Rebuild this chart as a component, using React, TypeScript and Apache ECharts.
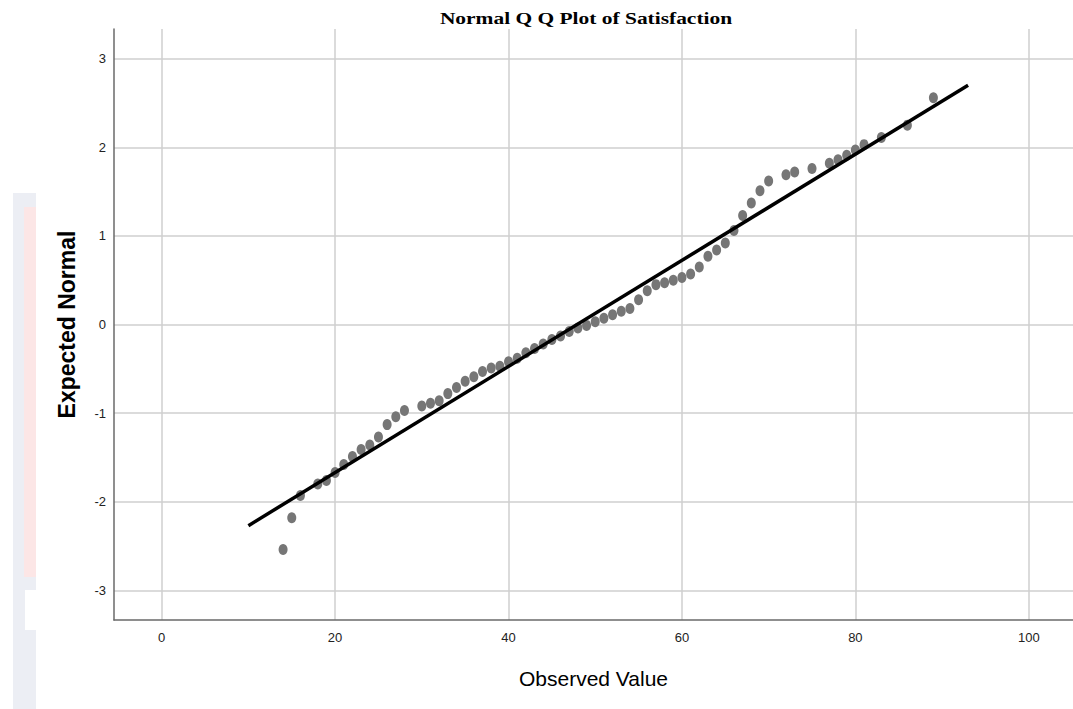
import React, { useEffect, useRef } from "react";
import * as echarts from "echarts";

const observedValues = [
  14, 15, 16, 18, 19, 20, 21, 22, 23, 24,
  25, 26, 27, 28, 30, 31, 32, 33, 34, 35,
  36, 37, 38, 39, 40, 41, 42, 43, 44, 45, 46, 47, 48, 49,
  50, 51, 52, 53, 54, 55, 56, 57, 58, 59, 60, 61, 62, 63, 64, 65, 66, 67, 68, 69, 70,
  72, 73, 75, 77, 78, 79, 80, 81, 83, 86, 89,
];
const expectedNormal = [
  -2.54, -2.18, -1.93, -1.8, -1.76, -1.67, -1.58, -1.49, -1.41, -1.36,
  -1.27, -1.13, -1.04, -0.97, -0.92, -0.89, -0.86, -0.78, -0.71, -0.64,
  -0.59, -0.53, -0.49, -0.47, -0.42, -0.38, -0.32, -0.27, -0.22, -0.17, -0.13, -0.08, -0.04, -0.01,
  0.03, 0.07, 0.11, 0.15, 0.18, 0.28, 0.38, 0.45, 0.47, 0.5, 0.53, 0.57, 0.65, 0.77, 0.84, 0.92, 1.06, 1.23, 1.37, 1.51, 1.62,
  1.69, 1.72, 1.76, 1.82, 1.86, 1.91, 1.97, 2.03, 2.11, 2.25, 2.56,
];
const refLineX = [10, 93];
const refLineY = [-2.27, 2.7];
const xTicks = [0, 20, 40, 60, 80, 100];
const yTicks = [-3, -2, -1, 0, 1, 2, 3];
const titleText = "Normal Q Q Plot of Satisfaction";
const xName = "Observed Value";
const yName = "Expected Normal";

const sans = "'Liberation Sans', Arial, sans-serif";

export default function App() {
  const ref = useRef<HTMLDivElement>(null);
  useEffect(() => {
    const chart = echarts.init(ref.current!, null, { renderer: "svg" });
    chart.setOption({
      animation: false,
      backgroundColor: "#ffffff",
      grid: { left: 114, right: 0, top: 29, bottom: 89, containLabel: false },
      graphic: [
        { type: "rect", shape: { x: 13, y: 193, width: 23, height: 516 }, style: { fill: "#eceef4" }, silent: true },
        { type: "rect", shape: { x: 24, y: 207, width: 12, height: 370 }, style: { fill: "#fce6e6" }, silent: true },
        { type: "rect", shape: { x: 25, y: 590, width: 11, height: 40 }, style: { fill: "#ffffff" }, silent: true },
        {
          type: "text",
          x: 586,
          y: 19,
          scaleX: 1.34,
          style: {
            text: titleText,
            fontFamily: "'Liberation Serif', 'Times New Roman', serif",
            fontWeight: "bold",
            fontSize: 16,
            fill: "#000",
            align: "center",
            verticalAlign: "middle",
          },
        },
      ],
      xAxis: {
        type: "value",
        min: -5.5,
        max: 105.1,
        name: xName,
        nameLocation: "middle",
        nameGap: 48,
        nameTextStyle: { fontFamily: sans, fontSize: 21, color: "#000" },
        axisLine: { show: true, onZero: false, lineStyle: { color: "#6a6a6a", width: 1.5 } },
        axisTick: { show: false, customValues: xTicks },
        axisLabel: { customValues: xTicks, fontFamily: sans, fontSize: 13, color: "#222", margin: 11 },
        splitLine: { show: true, lineStyle: { color: "#cfcfcf", width: 1.5 } },
      },
      yAxis: {
        type: "value",
        min: -3.335,
        max: 3.335,
        name: yName,
        nameLocation: "middle",
        nameRotate: 90,
        nameGap: 36,
        nameTextStyle: { fontFamily: sans, fontWeight: "bold", fontSize: 23, color: "#000" },
        axisLine: { show: true, onZero: false, lineStyle: { color: "#6a6a6a", width: 1.5 } },
        axisTick: { show: false, customValues: yTicks },
        axisLabel: { customValues: yTicks, fontFamily: sans, fontSize: 13, color: "#222", margin: 8 },
        splitLine: { show: true, lineStyle: { color: "#cfcfcf", width: 1.5 } },
      },
      series: [
        {
          type: "scatter",
          data: observedValues.map((x, i) => [x, expectedNormal[i]]),
          symbol: "circle",
          symbolSize: [9, 11],
          itemStyle: { color: "#767676", opacity: 1 },
          z: 2,
        },
        {
          type: "line",
          data: refLineX.map((x, i) => [x, refLineY[i]]),
          showSymbol: false,
          lineStyle: { color: "#000", width: 3.5 },
          z: 3,
        },
      ],
    });
    return () => chart.dispose();
  }, []);
  return (
    <div
      ref={ref}
      style={{ position: "fixed", left: 0, top: 0, width: 1073, height: 709, background: "#fff" }}
    />
  );
}
